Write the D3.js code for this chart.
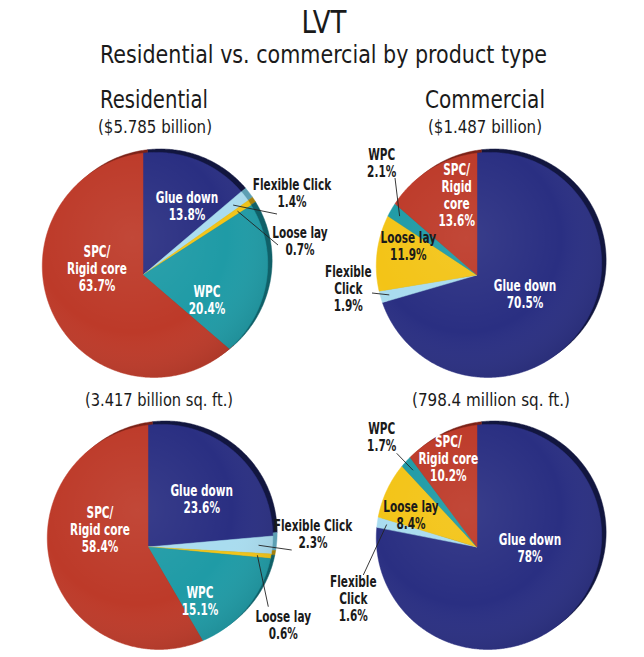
<!DOCTYPE html>
<html><head><meta charset="utf-8">
<script src="https://cdn.jsdelivr.net/npm/d3@7"></script>
<style>body{margin:0;background:#fff}</style></head>
<body>
<script>
// ---------------- data ----------------
const categories = ["Glue down", "Flexible Click", "Loose lay", "WPC", "SPC/Rigid core"];
const residentialValue  = [13.8, 1.4, 0.7, 20.4, 63.7];
const commercialValue   = [70.5, 1.9, 11.9, 2.1, 13.6];
const residentialVolume = [23.6, 2.3, 0.6, 15.1, 58.4];
const commercialVolume  = [78, 1.6, 8.4, 1.7, 10.2];
const mainTitle = "LVT";
const subTitle = "Residential vs. commercial by product type";
const columnTitles = ["Residential", "Commercial"];
const valueTotals = ["($5.785 billion)", "($1.487 billion)"];
const volumeTotals = ["(3.417 billion sq. ft.)", "(798.4 million sq. ft.)"];

// ---------------- style / layout ----------------
const W = 644, H = 657;
const FONT = "'Liberation Sans Narrow','DejaVu Sans Condensed','Roboto Condensed',sans-serif";
const color = d3.scaleOrdinal().domain(categories)
  .range(["#2a2f82", "#a9dcef", "#f3c417", "#1f9ba6", "#bd3a29"]);
const rimColor = d3.scaleOrdinal().domain(categories)
  .range(["#12163f", "#5d9fb3", "#a3800c", "#106068", "#7c2318"]);
const R = 111, P = -0.106, Q = 0.089;   // perspective of the tilted disk
const RIM = [4.4, -3.4];
const LABEL_SQUEEZE = 0.78;

const panels = [
  {values: residentialValue, apex: [143, 275], labels: [
    {lines: ["Glue down"], dx: 44, dy: -77, fill: "#fff"},
    {lines: ["Flexible Click"], dx: 149, dy: -90, fill: "#1a1a1a", leader: [134, -61]},
    {lines: ["Loose lay"], dx: 157, dy: -42, fill: "#1a1a1a", leader: [135, -30]},
    {lines: ["WPC"], dx: 64, dy: 17, fill: "#fff"},
    {lines: ["SPC/", "Rigid core"], dx: -46, dy: -23, fill: "#fff"}]},
  {values: commercialValue, apex: [477, 275], labels: [
    {lines: ["Glue down"], dx: 48, dy: 11, fill: "#fff"},
    {lines: ["Flexible", "Click"], dx: -128.7, dy: -3.3, fill: "#1a1a1a", leader: [-105, 18]},
    {lines: ["Loose lay"], dx: -68.7, dy: -37.7, fill: "#1a1a1a"},
    {lines: ["WPC"], dx: -95.3, dy: -120, fill: "#1a1a1a", leader: [-82, -97]},
    {lines: ["SPC/", "Rigid", "core"], dx: -20.3, dy: -105, fill: "#fff"}]},
  {values: residentialVolume, apex: [148, 547], labels: [
    {lines: ["Glue down"], dx: 53.7, dy: -56.3, fill: "#fff"},
    {lines: ["Flexible Click"], dx: 165, dy: -21, fill: "#1a1a1a", leader: [143.7, 3]},
    {lines: ["Loose lay"], dx: 135.3, dy: 69.7, fill: "#1a1a1a", leader: [120.3, 59.7]},
    {lines: ["WPC"], dx: 52, dy: 45.7, fill: "#fff"},
    {lines: ["SPC/", "Rigid core"], dx: -48, dy: -34.3, fill: "#fff"}]},
  {values: commercialVolume, apex: [477, 547], labels: [
    {lines: ["Glue down"], dx: 53, dy: -7, fill: "#fff"},
    {lines: ["Flexible", "Click"], dx: -123.7, dy: 34.7, fill: "#1a1a1a", leader: [-113.7, 28]},
    {lines: ["Loose lay"], dx: -66, dy: -40, fill: "#1a1a1a"},
    {lines: ["WPC"], dx: -95.3, dy: -118.7, fill: "#1a1a1a", leader: [-80.3, -93.7]},
    {lines: ["SPC/", "Rigid core"], dx: -28.7, dy: -105.3, fill: "#fff"}]}
];

// ---------------- drawing ----------------
const svg = d3.select("body").append("svg").attr("width", W).attr("height", H)
  .style("font-family", FONT);

const defs = svg.append("defs");
const g1 = defs.append("radialGradient").attr("id", "shade")
  .attr("cx", "40%").attr("cy", "38%").attr("r", "70%");
g1.append("stop").attr("offset", "0%").attr("stop-color", "#fff").attr("stop-opacity", 0.07);
g1.append("stop").attr("offset", "60%").attr("stop-color", "#fff").attr("stop-opacity", 0);
g1.append("stop").attr("offset", "100%").attr("stop-color", "#000").attr("stop-opacity", 0.12);

function proj(apex, a, r) {
  const s = Math.sin(a), c = Math.cos(a);
  const w = 1 + r * (P * s - Q * c);
  return [apex[0] + R * r * s / w, apex[1] - R * r * c / w];
}
const line = d3.line();
function slicePath(apex, a0, a1) {
  const n = Math.max(2, Math.ceil((a1 - a0) / 0.01));
  const pts = [apex].concat(d3.range(n + 1).map(i => proj(apex, a0 + (a1 - a0) * i / n, 1)));
  return line(pts) + "Z";
}

const pie = d3.pie().sort(null).value(d => d.v);

panels.forEach(pn => {
  const data = pie(categories.map((c, i) => ({c, v: pn.values[i], i})));
  const g = svg.append("g");
  const rimApex = [pn.apex[0] + RIM[0], pn.apex[1] + RIM[1]];
  // side / rim
  g.selectAll("path.rim").data(data).join("path").attr("class", "rim")
    .attr("d", d => slicePath(rimApex, d.startAngle, d.endAngle))
    .attr("fill", d => rimColor(d.data.c)).attr("stroke", d => rimColor(d.data.c)).attr("stroke-width", 0.5);
  // top face
  g.selectAll("path.face").data(data).join("path").attr("class", "face")
    .attr("d", d => slicePath(pn.apex, d.startAngle, d.endAngle))
    .attr("fill", d => color(d.data.c)).attr("stroke", d => color(d.data.c)).attr("stroke-width", 0.5);
  // shading overlay
  g.append("path").attr("d", slicePath(pn.apex, 0, 2 * Math.PI)).attr("fill", "url(#shade)");

  // labels
  data.forEach((d, k) => {
    const L = pn.labels[k];
    const lines = L.lines.concat([`${d.data.v}%`]);
    const x = pn.apex[0] + L.dx, y0 = pn.apex[1] + L.dy;
    if (L.leader) {
      const mid = (d.startAngle + d.endAngle) / 2;
      const s = proj(pn.apex, mid, 0.9);
      g.append("line").attr("x1", s[0]).attr("y1", s[1])
        .attr("x2", pn.apex[0] + L.leader[0]).attr("y2", pn.apex[1] + L.leader[1])
        .attr("stroke", "#222").attr("stroke-width", 0.9);
    }
    const t = g.append("text").attr("text-anchor", "middle").attr("fill", L.fill)
      .attr("transform", `translate(${x},${y0}) scale(${LABEL_SQUEEZE},1)`)
      .attr("font-size", 15).attr("font-weight", L.fill === "#fff" ? 700 : 600);
    lines.forEach((s, j) => {
      t.append("tspan").attr("x", 0).attr("y", j * 17).attr("dy", "0.36em").text(s);
    });
  });
});

// titles
function title(txt, x, y, size, len) {
  svg.append("text").attr("x", x).attr("y", y).attr("text-anchor", "middle")
    .attr("font-size", size).attr("fill", "#1a1a1a")
    .attr("textLength", len).attr("lengthAdjust", "spacingAndGlyphs").text(txt);
}
title(mainTitle, 324, 33, 32, 45);
title(subTitle, 323.5, 63, 25, 447);
title(columnTitles[0], 154, 108, 25, 108);
title(columnTitles[1], 485, 108, 25, 120);
title(valueTotals[0], 155, 133, 17.5, 114);
title(valueTotals[1], 485, 133, 17.5, 114);
title(volumeTotals[0], 159, 406, 17.5, 148);
title(volumeTotals[1], 491, 406, 17.5, 158);
</script>
</body></html>
